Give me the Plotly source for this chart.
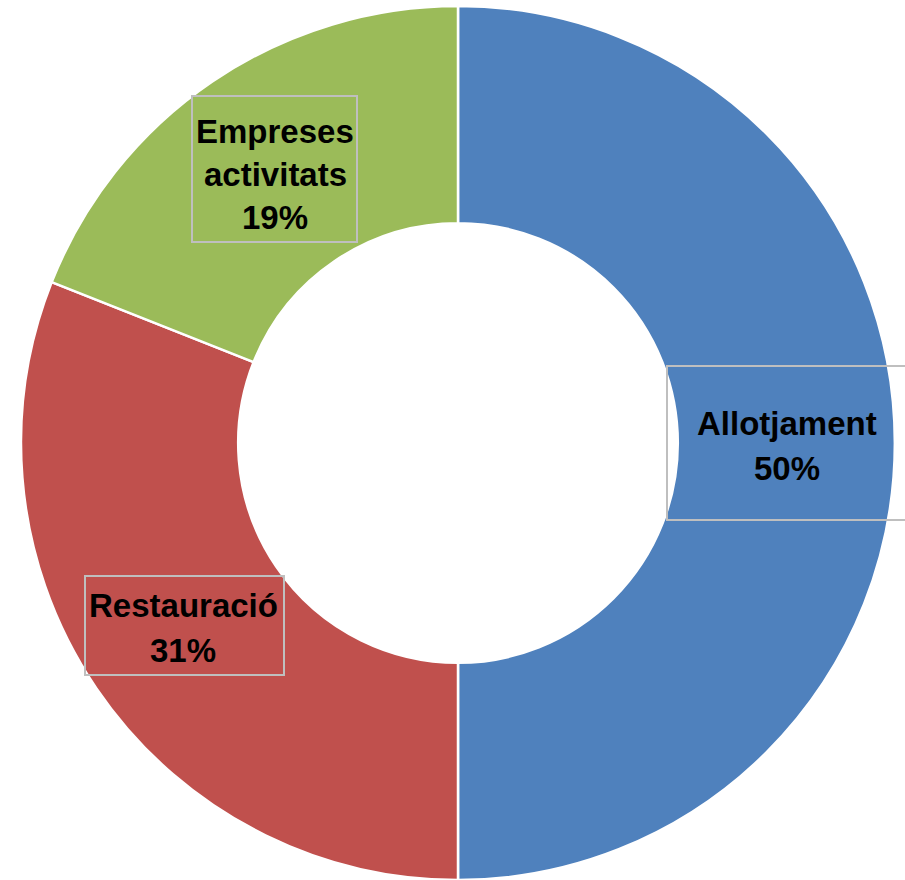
import plotly.graph_objects as go

categories = ["Allotjament", "Restauració", "Empreses activitats"]
values = [50, 31, 19]
colors = ["#4F81BD", "#C0504D", "#9BBB59"]

W, H = 905, 880
cx, cy, R = 458, 443, 437

fig = go.Figure(go.Pie(
    labels=categories, values=values, sort=False, direction="clockwise",
    rotation=0, hole=0.503, textinfo="none", hoverinfo="label+percent",
    marker=dict(colors=colors, line=dict(color="white", width=2.5)),
    domain=dict(x=[(cx - R) / W, (cx + R) / W], y=[1 - (cy + R) / H, 1 - (cy - R) / H]),
    showlegend=False,
))

# label layout: (box x0, y0, x1, y1 in px), text centre x, first line y, line spacing
label_layout = {
    "Allotjament": ((667, 366, 912, 520), 787, 423, 45),
    "Restauració": ((85, 576, 284, 675), 183, 605, 45),
    "Empreses activitats": ((192, 96, 357, 242), 275, 131, 43),
}

shapes, annotations = [], []
total = sum(values)
for cat, v in zip(categories, values):
    (x0, y0, x1, y1), tx, ty, sp = label_layout[cat]
    shapes.append(dict(type="rect", xref="paper", yref="paper",
                       x0=x0 / W, x1=x1 / W, y0=1 - y1 / H, y1=1 - y0 / H,
                       line=dict(color="#BFBFBF", width=2), fillcolor="rgba(0,0,0,0)"))
    lines = cat.split(" ") + [f"{round(v / total * 100)}%"]
    for i, ln in enumerate(lines):
        annotations.append(dict(xref="paper", yref="paper", x=tx / W, y=1 - (ty + i * sp) / H,
                                text=f"<b>{ln}</b>", showarrow=False, xanchor="center", yanchor="middle",
                                font=dict(family="Liberation Sans", size=33, color="black")))

fig.update_layout(width=W, height=H, margin=dict(l=0, r=0, t=0, b=0),
                  paper_bgcolor="white", plot_bgcolor="white",
                  shapes=shapes, annotations=annotations)
fig.write_html("out.html", config={"displayModeBar": False},
               post_script="document.body.style.margin='0';document.body.style.overflow='hidden';")
